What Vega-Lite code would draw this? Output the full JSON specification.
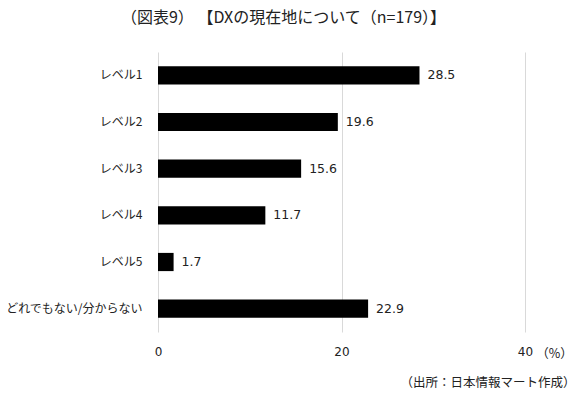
{
  "$schema": "https://vega.github.io/schema/vega-lite/v6.json",
  "width": 367,
  "height": 280,
  "autosize": {"type": "none"},
  "padding": {"left": 158, "top": 52, "right": 54, "bottom": 69},
  "background": "white",
  "title": {
    "text": "（図表9） 【DXの現在地について（n=179）】",
    "anchor": "middle",
    "dx": -58,
    "offset": 26,
    "fontSize": 16,
    "fontWeight": "normal",
    "font": "Noto Sans CJK JP",
    "color": "#222222"
  },
  "config": {
    "view": {"stroke": null},
    "font": "Noto Sans CJK JP"
  },
  "data": {
    "values": [
      {"category": "レベル1", "value": 28.5},
      {"category": "レベル2", "value": 19.6},
      {"category": "レベル3", "value": 15.6},
      {"category": "レベル4", "value": 11.7},
      {"category": "レベル5", "value": 1.7},
      {"category": "どれでもない/分からない", "value": 22.9}
    ]
  },
  "encoding": {
    "y": {
      "field": "category",
      "type": "nominal",
      "sort": null,
      "scale": {"paddingInner": 0.61, "paddingOuter": 0.305},
      "axis": {
        "title": "（%）",
        "titleAngle": 0,
        "titleX": 396,
        "titleY": 301,
        "titleAlign": "center",
        "titleBaseline": "middle",
        "titleFontSize": 12.5,
        "titleFontWeight": "normal",
        "titleColor": "#222222",
        "titleFont": "Noto Sans CJK JP",
        "ticks": false,
        "domain": false,
        "labelPadding": 16,
        "labelFontSize": 12,
        "labelColor": "#222222",
        "labelFont": "Noto Sans CJK JP"
      }
    },
    "x": {
      "field": "value",
      "type": "quantitative",
      "scale": {"domain": [0, 40], "nice": false},
      "axis": {
        "values": [0, 20, 40],
        "title": "（出所：日本情報マート作成）",
        "titleX": 417,
        "titleY": 50,
        "titleAlign": "right",
        "titleAnchor": null,
        "titleBaseline": "middle",
        "titleFontSize": 12.5,
        "titleFontWeight": "normal",
        "titleColor": "#222222",
        "titleFont": "Noto Sans CJK JP",
        "ticks": false,
        "domain": false,
        "grid": true,
        "gridColor": "#d9d9d9",
        "labelFlush": false,
        "labelPadding": 14,
        "labelFontSize": 12,
        "labelColor": "#222222",
        "labelFont": "DejaVu Sans"
      }
    }
  },
  "layer": [
    {"mark": {"type": "bar", "color": "#000000"}},
    {
      "mark": {"type": "text", "align": "left", "baseline": "middle", "dx": 8, "fontSize": 12.5, "color": "#222222", "font": "DejaVu Sans"},
      "encoding": {"text": {"field": "value", "type": "quantitative", "format": ".1f"}}
    }
  ]
}
